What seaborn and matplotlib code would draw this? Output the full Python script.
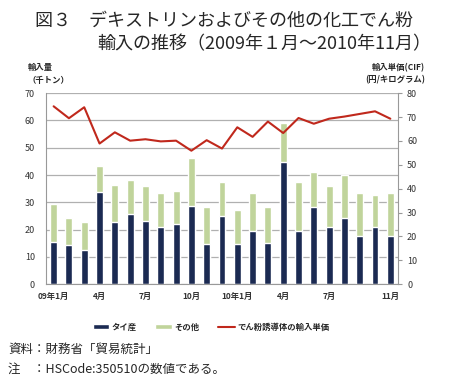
import pandas as pd
import seaborn as sns
import matplotlib.pyplot as plt

#Data (2009-01 .. 2010-11)
months = ['09-01', '09-02', '09-03', '09-04', '09-05', '09-06', '09-07', '09-08', '09-09', '09-10', '09-11', '09-12',
          '10-01', '10-02', '10-03', '10-04', '10-05', '10-06', '10-07', '10-08', '10-09', '10-10', '10-11']
thai = [15.5, 14.2, 12.6, 33.7, 22.8, 25.6, 23.3, 21.0, 21.9, 28.8, 14.8, 25.0,
        14.8, 19.3, 15.1, 44.6, 19.5, 28.1, 20.8, 24.4, 17.6, 21.0, 17.5]
other = [13.8, 10.2, 10.1, 9.5, 13.5, 12.4, 12.7, 12.4, 12.4, 17.5, 13.5, 12.4,
         12.4, 14.1, 13.2, 14.5, 17.8, 12.9, 15.3, 15.6, 15.9, 11.5, 15.9]
price = [74.5, 69.5, 74.1, 58.9, 63.6, 60.1, 60.7, 59.8, 60.1, 55.9, 60.3, 56.8,
         65.7, 61.7, 68.1, 63.3, 69.6, 67.2, 69.3, 70.2, 71.3, 72.4, 69.3]
tick_pos = [0, 3, 6, 9, 12, 15, 18, 22]
tick_labels = ['09年1月', '4月', '7月', '10月', '10年1月', '4月', '7月', '11月']

data = pd.DataFrame({'month': months, 'thai': thai, 'other': other, 'price': price})
data['total'] = data['thai'] + data['other']
data['x'] = range(len(data))

sns.set_style('white')
plt.rcParams['font.family'] = ['Noto Sans CJK JP', 'DejaVu Sans']

navy = '#1b2a52'
green = '#c0d49b'
red = '#c0281c'

fig = plt.figure(figsize=(4.49, 3.85), dpi=100)
ax = fig.add_axes([0.1024, 0.262, 0.784, 0.496])

#Stacked bars: total in green, Thai part drawn over it in navy
sns.barplot(x='x', y='total', data=data, color=green, width=0.45, ax=ax, saturation=1, label='その他')
sns.barplot(x='x', y='thai', data=data, color=navy, width=0.45, ax=ax, saturation=1, label='タイ産')
h1, l1 = ax.get_legend_handles_labels()
if ax.get_legend() is not None:
    ax.get_legend().remove()

ax.set_xlim(-0.5, 22.5)
ax.set_ylim(0, 70)
ax.set_yticks(range(0, 71, 10))
ax.yaxis.grid(True, color='#b0b0b0', linewidth=0.9)
ax.set_axisbelow(True)
ax.set_xticks(tick_pos)
ax.set_xticklabels(tick_labels, fontsize=6, fontweight='bold', color='#333333')
ax.set_xticks([i + 0.5 for i in range(-1, 23)], minor=True)
ax.tick_params(axis='x', which='major', length=0, pad=6)
ax.tick_params(axis='x', which='minor', length=3, color='#999999', width=0.7)
ax.tick_params(axis='y', labelsize=6.5, length=0, pad=8, labelcolor='#333333')
ax.set_xlabel('')
ax.set_ylabel('')
for s in ['top', 'right']:
    ax.spines[s].set_visible(False)
ax.spines['left'].set_color('#999999')
ax.spines['bottom'].set_color('#999999')

#Unit price on right axis
ax2 = ax.twinx()
sns.lineplot(x='x', y='price', data=data, color=red, linewidth=1.5, ax=ax2, label='でん粉誘導体の輸入単価')
h2, l2 = ax2.get_legend_handles_labels()
ax2.get_legend().remove()
ax2.set_ylim(0, 80)
ax2.set_yticks(range(0, 81, 10))
ax2.tick_params(axis='y', labelsize=6.5, length=3, color='#999999', labelcolor='#333333')
ax2.set_ylabel('')
ax2.set_xlim(-0.5, 22.5)
for s in ['top', 'left', 'bottom']:
    ax2.spines[s].set_visible(False)
ax2.spines['right'].set_color('#999999')

#Legend
handles = [h1[1], h1[0], h2[0]]
labels = [l1[1], l1[0], l2[0]]
fig.legend(handles, labels, loc='center', bbox_to_anchor=(0.47, 0.15), ncol=3, frameon=False,
           handlelength=2.0, handleheight=0.6, columnspacing=2.2, handletextpad=0.3,
           prop={'weight': 'bold', 'size': 6})

#Axis titles
fig.text(0.062, 0.808, '輸入量\n（千トン）', fontsize=6, fontweight='bold', ha='left', va='center', linespacing=1.5)
fig.text(0.947, 0.808, '輸入単価(CIF)\n(円/キログラム)', fontsize=6, fontweight='bold', ha='right', va='center',
         linespacing=1.5, multialignment='right')

#Title
fig.text(0.078, 0.945, '図３　デキストリンおよびその他の化工でん粉', fontsize=13, ha='left', va='center')
fig.text(0.216, 0.885, '輸入の推移（2009年１月～2010年11月）', fontsize=13, ha='left', va='center')

#Notes
fig.text(0.018, 0.093, '資料：財務省「貿易統計」', fontsize=9, ha='left', va='center')
fig.text(0.018, 0.040, '注　：HSCode:350510の数値である。', fontsize=9, ha='left', va='center')

plt.savefig('out.png', dpi=100)
